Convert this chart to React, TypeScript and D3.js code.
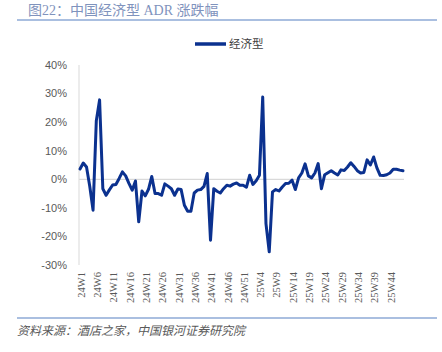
import React from "react";
import * as d3 from "d3";

const weeks2024: string[] = Array.from({ length: 52 }, (_, i) => `24W${i + 1}`);
const weeks2025: string[] = Array.from({ length: 48 }, (_, i) => `25W${i + 1}`);
const categories: string[] = [...weeks2024, ...weeks2025];

const economyValues: number[] = [
  3.6, 5.7, 4.3, -2.5, -10.8, 20.5, 27.8, -3.3, -5.6, -3.7,
  -2.0, -1.8, 0.3, 2.6, 1.2, -1.4, -3.8, -0.6, -14.9, -4.1,
  -5.8, -3.5, 1.0, -5.0, -5.0, -5.6, -1.6, -2.4, -3.3, -5.6,
  -3.4, -3.6, -9.1, -11.2, -11.2, -4.8, -3.8, -3.6, -2.5, 2.0,
  -21.3, -3.3, -4.2, -4.8, -3.3, -2.1, -2.4, -1.7, -1.3, -2.1,
  -2.1, -2.8, 1.4, -1.8, -0.5, 1.4, 28.8, -15.5, -25.4, -4.4,
  -3.6, -4.1, -2.7, -1.5, -1.4, -0.3, -3.6, 0.5, 2.2, 5.4,
  1.2, 0.5, 2.2, 5.5, -3.3, 1.6, 2.3, 3.0, 2.2, 1.5,
  3.3, 3.1, 4.3, 5.8, 4.5, 3.0, 2.2, 2.4, 6.8, 5.0,
  7.8, 4.0, 1.4, 1.3, 1.6, 2.2, 3.5, 3.5, 3.2, 3.0,
];

const yTicks: number[] = [40, 30, 20, 10, 0, -10, -20, -30];
const xTickLabels: string[] = categories.filter((_, i) => i % 5 === 0);

const seriesName = "经济型";
const title = "图22：中国经济型 ADR 涨跌幅";
const source = "资料来源：酒店之家，中国银河证券研究院";

export default function App() {
  const W = 442;
  const H = 352;
  const left = 79;
  const right = 403;
  const top = 65;
  const bottom = 265;

  const x = d3.scalePoint<string>().domain(categories).range([left + 1, right]);
  const y = d3.scaleLinear().domain([-30, 40]).range([bottom, top]);

  const line = d3
    .line<number>()
    .x((_, i) => x(categories[i]) as number)
    .y((d) => y(d));

  const lineColor = "#0b318f";

  return (
    <svg
      width={W}
      height={H}
      style={{ position: "absolute", left: 0, top: 0, background: "#fff" }}
    >
      {/* Title */}
      <text
        x={28}
        y={15}
        fontSize={14}
        fill="#7f93bd"
        fontFamily="'Liberation Serif', 'Noto Sans CJK SC', serif"
      >
        {title}
      </text>
      <line x1={17} x2={437} y1={20} y2={20} stroke="#8eaad6" strokeWidth={1.5} />

      {/* Legend */}
      <line x1={195} x2={226} y1={44} y2={44} stroke={lineColor} strokeWidth={3.5} />
      <text
        x={229}
        y={48}
        fontSize={11.5}
        fill="#404040"
        fontFamily="'Noto Sans CJK SC', sans-serif"
      >
        {seriesName}
      </text>

      {/* Y axis */}
      <line x1={left} x2={left} y1={top} y2={bottom} stroke="#d9d9d9" strokeWidth={1} />
      {yTicks.map((t) => (
        <text
          key={t}
          x={67}
          y={y(t)}
          dy="0.35em"
          textAnchor="end"
          fontSize={11}
          fill="#595959"
          fontFamily="'Liberation Sans', Arial, sans-serif"
        >
          {`${t}%`}
        </text>
      ))}

      {/* Zero line */}
      <line x1={left} x2={right + 1} y1={y(0)} y2={y(0)} stroke="#d9d9d9" strokeWidth={1.2} />

      {/* X labels */}
      {xTickLabels.map((c) => {
        const px = (x(c) as number) + 1;
        return (
          <text
            key={c}
            transform={`translate(${px},${272}) rotate(-90)`}
            textAnchor="end"
            dy="0.35em"
            fontSize={10.5}
            fill="#595959"
            fontFamily="'Liberation Serif', 'Times New Roman', serif"
          >
            {c}
          </text>
        );
      })}

      {/* Series */}
      <path
        d={line(economyValues) || ""}
        fill="none"
        stroke={lineColor}
        strokeWidth={3}
        strokeLinejoin="round"
        strokeLinecap="round"
      />

      {/* Footer */}
      <line x1={17} x2={437} y1={318} y2={318} stroke="#8eaad6" strokeWidth={1.5} />
      <text
        x={17}
        y={335}
        fontSize={12}
        fontStyle="italic"
        fill="#595959"
        fontFamily="'Noto Sans CJK SC', sans-serif"
      >
        {source}
      </text>
    </svg>
  );
}
